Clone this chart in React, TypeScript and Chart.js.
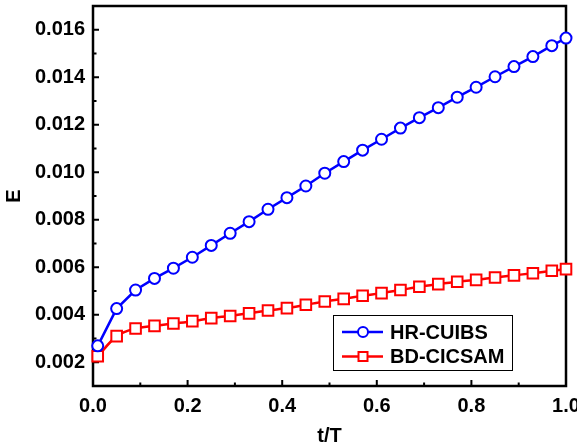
import React, { useEffect, useRef } from 'react';
import { Chart, registerables } from 'chart.js';

Chart.register(...registerables);

const tValues = [
  0.01, 0.05, 0.09, 0.13, 0.17, 0.21, 0.25, 0.29, 0.33, 0.37, 0.41, 0.45, 0.49,
  0.53, 0.57, 0.61, 0.65, 0.69, 0.73, 0.77, 0.81, 0.85, 0.89, 0.93, 0.97, 1.0,
];
const hrCuibs = [
  0.00269, 0.00426, 0.00504, 0.00553, 0.00596, 0.00642, 0.00692, 0.00743, 0.00792,
  0.00844, 0.00893, 0.00942, 0.00996, 0.01045, 0.01093, 0.01139, 0.01186, 0.0123,
  0.01272, 0.01316, 0.01358, 0.01402, 0.01445, 0.01487, 0.01533, 0.01565,
];
const bdCicsam = [
  0.00225, 0.0031, 0.00342, 0.00353, 0.00363, 0.00373, 0.00386, 0.00395, 0.00406,
  0.00418, 0.00428, 0.00442, 0.00456, 0.00467, 0.0048, 0.00491, 0.00504, 0.00518,
  0.00529, 0.00539, 0.00547, 0.00557, 0.00566, 0.00575, 0.00585, 0.00592,
];
const seriesLabels = ['HR-CUIBS', 'BD-CICSAM'];
const xMajorTicks = [0, 0.2, 0.4, 0.6, 0.8, 1.0];
const xMinorTicks = [0.1, 0.3, 0.5, 0.7, 0.9];
const yMajorTicks = [0.002, 0.004, 0.006, 0.008, 0.01, 0.012, 0.014, 0.016];
const yMinorTicks = [0.003, 0.005, 0.007, 0.009, 0.011, 0.013, 0.015];
const xTitle = 't/T';
const yTitle = 'E';

const FONT = '"Liberation Sans", Arial, sans-serif';

const framePlugin = {
  id: 'frame',
  beforeDatasetsDraw(chart: any) {
    const { ctx, chartArea, scales } = chart;
    const { left, right, top, bottom } = chartArea;
    const x = scales.x;
    const y = scales.y;
    ctx.save();
    ctx.strokeStyle = '#000';
    ctx.lineWidth = 2;
    ctx.beginPath();
    xMajorTicks.forEach((v) => {
      const px = x.getPixelForValue(v);
      ctx.moveTo(px, bottom);
      ctx.lineTo(px, bottom - 6);
    });
    xMinorTicks.forEach((v) => {
      const px = x.getPixelForValue(v);
      ctx.moveTo(px, bottom);
      ctx.lineTo(px, bottom - 3.5);
    });
    yMajorTicks.forEach((v) => {
      const py = y.getPixelForValue(v);
      ctx.moveTo(left, py);
      ctx.lineTo(left + 6, py);
    });
    yMinorTicks.forEach((v) => {
      const py = y.getPixelForValue(v);
      ctx.moveTo(left, py);
      ctx.lineTo(left + 3.5, py);
    });
    ctx.stroke();
    ctx.lineWidth = 2.5;
    ctx.strokeRect(left, top, right - left, bottom - top);
    ctx.restore();
  },
};

const legendPlugin = {
  id: 'customLegend',
  afterDraw(chart: any) {
    const { ctx, chartArea } = chart;
    const boxRight = chartArea.right - 54;
    const boxBottom = chartArea.bottom - 16;
    const boxW = 179;
    const boxH = 55;
    const bx = boxRight - boxW;
    const by = boxBottom - boxH;
    ctx.save();
    ctx.fillStyle = '#fff';
    ctx.fillRect(bx, by, boxW, boxH);
    ctx.strokeStyle = '#000';
    ctx.lineWidth = 1;
    ctx.strokeRect(bx + 0.5, by + 0.5, boxW, boxH);
    chart.data.datasets.forEach((ds: any, i: number) => {
      const cy = by + 17 + i * 24.5;
      const lx0 = bx + 9;
      const lx1 = bx + 50;
      const mx = bx + 30;
      ctx.strokeStyle = ds.borderColor;
      ctx.lineWidth = 2.5;
      ctx.beginPath();
      ctx.moveTo(lx0, cy);
      ctx.lineTo(lx1, cy);
      ctx.stroke();
      ctx.fillStyle = '#fff';
      ctx.lineWidth = 2;
      if (ds.pointStyle === 'rect') {
        ctx.fillRect(mx - 4.5, cy - 4.5, 9, 9);
        ctx.strokeRect(mx - 4.5, cy - 4.5, 9, 9);
      } else {
        ctx.beginPath();
        ctx.arc(mx, cy, 5, 0, Math.PI * 2);
        ctx.fill();
        ctx.stroke();
      }
      ctx.fillStyle = '#000';
      ctx.font = `bold 20px ${FONT}`;
      ctx.textBaseline = 'middle';
      ctx.textAlign = 'left';
      ctx.fillText(ds.label, bx + 57, cy + 1);
    });
    ctx.restore();
  },
};

export default function App() {
  const canvasRef = useRef<HTMLCanvasElement | null>(null);

  useEffect(() => {
    document.body.style.margin = '0';
    const canvas = canvasRef.current;
    if (!canvas) return;
    const chart = new Chart(canvas, {
      type: 'line',
      data: {
        datasets: [
          {
            label: seriesLabels[0],
            data: tValues.map((t, i) => ({ x: t, y: hrCuibs[i] })),
            borderColor: '#0000ff',
            backgroundColor: '#ffffff',
            pointBackgroundColor: '#ffffff',
            pointBorderColor: '#0000ff',
            pointStyle: 'circle',
            pointRadius: 5.5,
            pointBorderWidth: 2,
            borderWidth: 2.5,
            tension: 0,
            clip: false as any,
          },
          {
            label: seriesLabels[1],
            data: tValues.map((t, i) => ({ x: t, y: bdCicsam[i] })),
            borderColor: '#ff0000',
            backgroundColor: '#ffffff',
            pointBackgroundColor: '#ffffff',
            pointBorderColor: '#ff0000',
            pointStyle: 'rect',
            pointRadius: 7.5,
            pointBorderWidth: 2,
            borderWidth: 2.5,
            cubicInterpolationMode: 'monotone',
            clip: false as any,
          },
        ],
      },
      options: {
        animation: false,
        responsive: false,
        maintainAspectRatio: false,
        layout: { autoPadding: false, padding: { left: 0, top: 6, right: 11, bottom: 0 } } as any,
        plugins: {
          legend: { display: false },
          tooltip: { enabled: false },
        },
        scales: {
          x: {
            type: 'linear',
            min: 0,
            max: 1,
            afterBuildTicks: (scale: any) => {
              scale.ticks = xMajorTicks.map((v) => ({ value: v }));
            },
            afterFit: (scale: any) => {
              scale.height = 61;
              scale.paddingLeft = 0;
              scale.paddingRight = 0;
            },
            grid: { display: false, drawTicks: false },
            border: { display: false },
            ticks: {
              padding: 8,
              color: '#000',
              font: { family: FONT, size: 20, weight: 'bold' },
              callback: (v: any) => Number(v).toFixed(1),
              maxRotation: 0,
            },
            title: {
              display: true,
              text: xTitle,
              color: '#000',
              font: { family: FONT, size: 20, weight: 'bold' },
              padding: { top: 0, bottom: -1 },
            },
          },
          y: {
            type: 'linear',
            min: 0.001,
            max: 0.017,
            afterBuildTicks: (scale: any) => {
              scale.ticks = yMajorTicks.map((v) => ({ value: v }));
            },
            afterFit: (scale: any) => {
              scale.width = 93;
              scale.paddingTop = 0;
              scale.paddingBottom = 0;
            },
            grid: { display: false, drawTicks: false },
            border: { display: false },
            ticks: {
              padding: 8,
              color: '#000',
              font: { family: FONT, size: 20, weight: 'bold' },
              callback: (v: any) => Number(v).toFixed(3),
            },
            title: {
              display: true,
              text: yTitle,
              color: '#000',
              font: { family: FONT, size: 20, weight: 'bold' },
              padding: { top: 2, bottom: 0 },
            },
          },
        },
      },
      plugins: [framePlugin, legendPlugin],
    });
    return () => {
      chart.destroy();
    };
  }, []);

  return (
    <div style={{ width: 577, height: 447 }}>
      <canvas ref={canvasRef} width={577} height={447} />
    </div>
  );
}
